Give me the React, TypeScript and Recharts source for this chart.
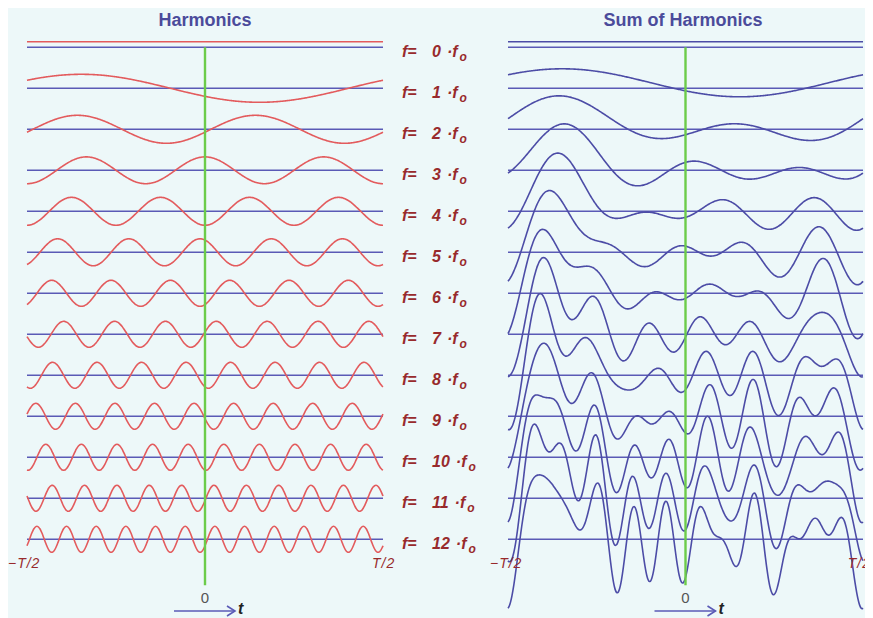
import { LineChart, Line, XAxis, YAxis, ReferenceLine } from "recharts";

// harmonic order, amplitude and phase (deg) of each component
const harmonicOrders = [0, 1, 2, 3, 4, 5, 6, 7, 8, 9, 10, 11, 12];
const amplitudes = [5.5, 14, 14, 13.4, 14, 13.5, 13, 13, 13, 13, 13, 13, 13];
const phasesDeg = [0, 125, -102, 0, 180, 25, -150, -80, 153, 100, 170, -100, -120];

const panelTitles = ["Harmonics", "Sum of Harmonics"];
const edgeLabels = ["\u2212T/2", "T/2"];
const originLabel = "0";
const timeLabel = "t";

const ROW_GAP = 41;
const STEPS = 360;
const Y_DOMAIN: [number, number] = [-562.7, 19.3];

// sampled table for the library: each row is offset by its own baseline
const table = Array.from({ length: STEPS + 1 }, (_, i) => {
  const t = -0.5 + i / STEPS;
  const row: Record<string, number> = { t };
  let sum = 0;
  harmonicOrders.forEach((k, idx) => {
    const h =
      amplitudes[idx] * Math.cos(2 * Math.PI * k * t + (phasesDeg[idx] * Math.PI) / 180);
    sum += h;
    row[`h${k}`] = h - ROW_GAP * k;
    row[`s${k}`] = sum - ROW_GAP * k;
  });
  return row;
});

const RED = "#e35b5d";
const BLUE = "#5a5ab6";
const SUM_BLUE = "#4c4ca6";
const GREEN = "#6ccc4a";
const LABEL_RED = "#982a2c";
const FONT = "'Liberation Sans', Arial, sans-serif";

const Panel = ({ prefix, color, left, width, margin }: any) => (
  <div style={{ position: "absolute", left, top: 0 }}>
    <LineChart width={width} height={610} data={table} margin={margin}>
      <XAxis dataKey="t" type="number" domain={[-0.5, 0.5]} hide />
      <YAxis type="number" domain={Y_DOMAIN} allowDataOverflow hide />
      {harmonicOrders.map((k) => (
        <ReferenceLine key={`b${k}`} y={-ROW_GAP * k} stroke={BLUE} strokeWidth={1.6} />
      ))}
      {harmonicOrders.map((k) => (
        <Line
          key={k}
          type="monotone"
          dataKey={`${prefix}${k}`}
          stroke={color}
          strokeWidth={1.6}
          dot={false}
          activeDot={false}
          isAnimationActive={false}
        />
      ))}
      <ReferenceLine
        segment={[
          { x: 0, y: 0 },
          { x: 0, y: -538 },
        ]}
        stroke={GREEN}
        strokeWidth={2.4}
      />
    </LineChart>
  </div>
);

const Arrow = ({ x, y }: { x: number; y: number }) => (
  <g stroke={BLUE} strokeWidth={1.6} fill="none">
    <line x1={x} y1={y} x2={x + 61} y2={y} />
    <polyline points={`${x + 53},${y - 5} ${x + 61},${y} ${x + 53},${y + 5}`} />
  </g>
);

const App = () => {
  const centers = [197, 677.5];
  return (
    <div
      style={{
        position: "relative",
        width: 865,
        height: 610,
        background: "#edf8f9",
        overflow: "hidden",
        fontFamily: FONT,
      }}
    >
      <Panel
        prefix="h"
        color={RED}
        left={0}
        width={390}
        margin={{ top: 20, right: 15, bottom: 8, left: 19 }}
      />
      <Panel
        prefix="s"
        color={SUM_BLUE}
        left={480}
        width={385}
        margin={{ top: 20, right: 10, bottom: 8, left: 20 }}
      />
      <svg
        width={865}
        height={610}
        style={{ position: "absolute", left: 0, top: 0, pointerEvents: "none" }}
      >
        <text x={197} y={18} textAnchor="middle" fontSize={18} fontWeight="bold" fill="#4b4b9b">
          {panelTitles[0]}
        </text>
        <text x={675} y={18} textAnchor="middle" fontSize={18} fontWeight="bold" fill="#4b4b9b">
          {panelTitles[1]}
        </text>

        {harmonicOrders.map((k) => {
          const y = 49.3 + ROW_GAP * k;
          return (
            <text
              key={k}
              x={394}
              y={y}
              fontSize={16}
              fontStyle="italic"
              fontWeight="bold"
              fill={LABEL_RED}
            >
              f=
              <tspan x={424}>{k}</tspan>
              <tspan dx={6}>·f</tspan>
              <tspan dx={2} dy={4} fontSize={12}>
                o
              </tspan>
            </text>
          );
        })}

        <g fontSize={14} fontStyle="italic" fill={LABEL_RED} letterSpacing={1}>
          <text x={0} y={560}>
            {edgeLabels[0]}
          </text>
          <text x={364} y={560}>
            {edgeLabels[1]}
          </text>
          <text x={482} y={560}>
            {edgeLabels[0]}
          </text>
          <text x={863} y={560} textAnchor="end">
            {edgeLabels[1]}
          </text>
        </g>

        {centers.map((cx, i) => (
          <g key={i}>
            <text x={cx} y={595} textAnchor="middle" fontSize={15} fill="#555">
              {originLabel}
            </text>
            <Arrow x={cx - 31} y={603} />
            <text x={cx + 33} y={606} fontSize={16} fontStyle="italic" fontWeight="bold" fill="#222">
              {timeLabel}
            </text>
          </g>
        ))}
      </svg>
    </div>
  );
};

export default App;
